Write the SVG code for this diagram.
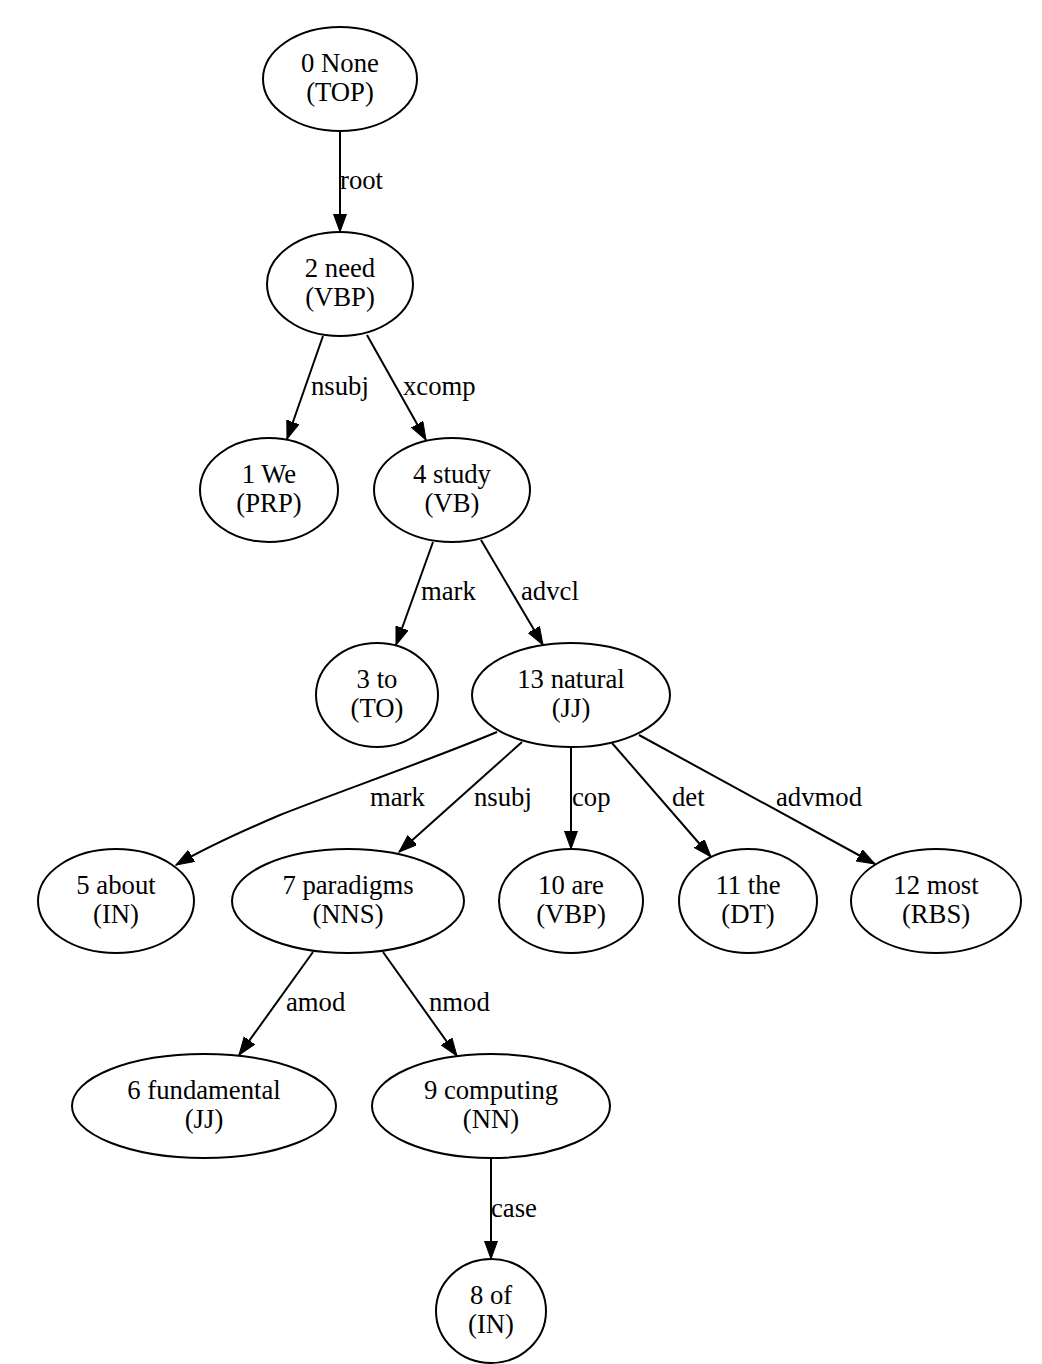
<svg xmlns="http://www.w3.org/2000/svg" width="1042" height="1364" viewBox="0 0 1042 1364">
<style>
text{font-family:"Liberation Serif","Times New Roman",Times,serif;font-size:26.7px;fill:#000}
.n ellipse{fill:none;stroke:#000;stroke-width:2}
.n text{text-anchor:middle}
#edges path{fill:none;stroke:#000;stroke-width:2;marker-end:url(#ah)}
</style>
<defs>
<marker id="ah" markerUnits="userSpaceOnUse" markerWidth="20" markerHeight="14" refX="18" refY="6.5" orient="auto">
<path d="M0,0 L18,6.5 L0,13 z" fill="#000" stroke="#000" stroke-width="1"/>
</marker>
</defs>
<rect width="1042" height="1364" fill="#fff"/>
<g id="edges">
<path d="M340,131 L340,232"/>
<path d="M323,336 L287,439"/>
<path d="M367,335 L426,440"/>
<path d="M433,542 L396,645"/>
<path d="M481,540 L543,645"/>
<path d="M497,732 C430,760 330,795 280,815 C240,832 205,848 176,865"/>
<path d="M522,742 L399,852"/>
<path d="M571,747 L571,849"/>
<path d="M612,743 L711,857"/>
<path d="M639,735 L875,864"/>
<path d="M313,952 L239,1055"/>
<path d="M383,952 L457,1056"/>
<path d="M491,1158 L491,1259"/>
<text x="340" y="189">root</text>
<text x="311" y="395">nsubj</text>
<text x="403" y="395">xcomp</text>
<text x="421" y="600">mark</text>
<text x="521" y="600">advcl</text>
<text x="370" y="806">mark</text>
<text x="474" y="806">nsubj</text>
<text x="572" y="806">cop</text>
<text x="672" y="806">det</text>
<text x="776" y="806">advmod</text>
<text x="286" y="1011">amod</text>
<text x="429" y="1011">nmod</text>
<text x="491" y="1217">case</text>
</g>
<g id="n0" class="n"><ellipse cx="340" cy="79" rx="77" ry="52"/><text x="340" y="72">0 None</text><text x="340" y="101">(TOP)</text></g>
<g id="n2" class="n"><ellipse cx="340" cy="284" rx="73" ry="52"/><text x="340" y="277">2 need</text><text x="340" y="306">(VBP)</text></g>
<g id="n1" class="n"><ellipse cx="269" cy="490" rx="69" ry="52"/><text x="269" y="483">1 We</text><text x="269" y="512">(PRP)</text></g>
<g id="n4" class="n"><ellipse cx="452" cy="490" rx="78" ry="52"/><text x="452" y="483">4 study</text><text x="452" y="512">(VB)</text></g>
<g id="n3" class="n"><ellipse cx="377" cy="695" rx="61" ry="52"/><text x="377" y="688">3 to</text><text x="377" y="717">(TO)</text></g>
<g id="n13" class="n"><ellipse cx="571" cy="695" rx="99" ry="52"/><text x="571" y="688">13 natural</text><text x="571" y="717">(JJ)</text></g>
<g id="n5" class="n"><ellipse cx="116" cy="901" rx="78" ry="52"/><text x="116" y="894">5 about</text><text x="116" y="923">(IN)</text></g>
<g id="n7" class="n"><ellipse cx="348" cy="901" rx="116" ry="52"/><text x="348" y="894">7 paradigms</text><text x="348" y="923">(NNS)</text></g>
<g id="n10" class="n"><ellipse cx="571" cy="901" rx="72" ry="52"/><text x="571" y="894">10 are</text><text x="571" y="923">(VBP)</text></g>
<g id="n11" class="n"><ellipse cx="748" cy="901" rx="69" ry="52"/><text x="748" y="894">11 the</text><text x="748" y="923">(DT)</text></g>
<g id="n12" class="n"><ellipse cx="936" cy="901" rx="85" ry="52"/><text x="936" y="894">12 most</text><text x="936" y="923">(RBS)</text></g>
<g id="n6" class="n"><ellipse cx="204" cy="1106" rx="132" ry="52"/><text x="204" y="1099">6 fundamental</text><text x="204" y="1128">(JJ)</text></g>
<g id="n9" class="n"><ellipse cx="491" cy="1106" rx="119" ry="52"/><text x="491" y="1099">9 computing</text><text x="491" y="1128">(NN)</text></g>
<g id="n8" class="n"><ellipse cx="491" cy="1311" rx="55" ry="52"/><text x="491" y="1304">8 of</text><text x="491" y="1333">(IN)</text></g>
</svg>
